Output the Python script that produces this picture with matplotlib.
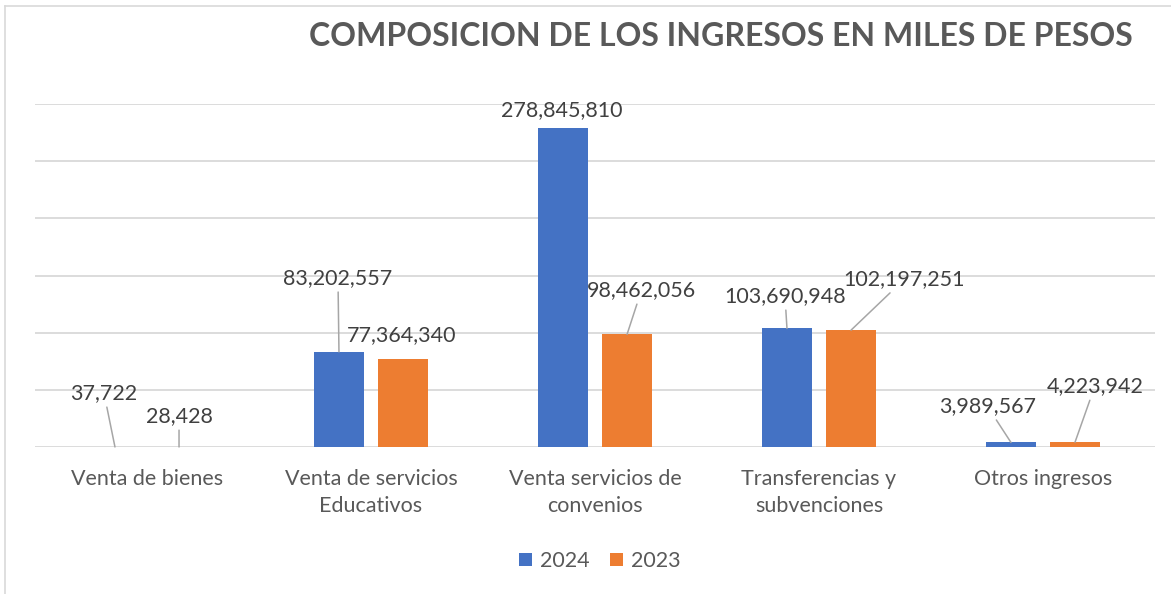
import matplotlib.pyplot as plt
from matplotlib.lines import Line2D
import numpy as np

plt.rcParams['font.family'] = ['Lato', 'DejaVu Sans']

categorias = ['Venta de bienes', 'Venta de servicios\nEducativos',
              'Venta servicios de\nconvenios', 'Transferencias y\nsubvenciones',
              'Otros ingresos']
v2024 = [37722, 83202557, 278845810, 103690948, 3989567]
v2023 = [28428, 77364340, 98462056, 102197251, 4223942]

# posicion de las etiquetas (pixeles respecto a la punta de la barra) y si llevan linea guia
off2024 = [(-11, 48), (-1, 68), (-1.5, 12), (-2, 26.5), (-23.7, 30.4)]
off2023 = [(0, 25), (-1, 17.5), (14.5, 38.4), (53.4, 45), (19.8, 50)]
guia2024 = [True, True, False, True, True]
guia2023 = [True, False, True, True, True]

W, H = 1171, 594
fig = plt.figure(figsize=(W / 100, H / 100), dpi=100)
ax = fig.add_axes([35 / W, (H - 447) / H, 1120 / W, 343 / H])

x = np.arange(len(categorias))
ancho = 0.223
desp = 0.143
azul = '#4472C4'
naranja = '#ED7D31'
b1 = ax.bar(x - desp, v2024, ancho, color=azul, label='2024', zorder=3)
b2 = ax.bar(x + desp, v2023, ancho, color=naranja, label='2023', zorder=3)

ax.set_xlim(-0.5, len(categorias) - 0.5)
ax.set_ylim(0, 300e6)
ax.set_yticks(np.arange(0, 300e6 + 1, 50e6))
ax.yaxis.grid(True, color='#D9D9D9', linewidth=1.3, zorder=0)
ax.set_yticklabels([])
ax.tick_params(axis='y', length=0)
for s in ax.spines.values():
    s.set_visible(False)

ax.set_xticks(x)
ax.set_xticklabels(categorias, fontsize=15.5, color='#595959', linespacing=1.45)
ax.tick_params(axis='x', length=0, pad=16)


def etiquetar(valores, xs, offs, guias):
    for v, xi, (dx, dy), g in zip(valores, xs, offs, guias):
        props = None
        if g:
            props = dict(arrowstyle='-', color='#A6A6A6', lw=1.1, shrinkA=1, shrinkB=0)
        ax.annotate(f'{v:,}', xy=(xi, v), xytext=(dx, dy), textcoords='offset pixels',
                    ha='center', va='baseline', fontsize=15.5, color='#404040',
                    arrowprops=props, annotation_clip=False, zorder=4)


etiquetar(v2024, x - desp, off2024, guia2024)
etiquetar(v2023, x + desp, off2023, guia2023)

fig.text(720.5 / W, 1 - 37 / H, 'COMPOSICION DE LOS INGRESOS EN MILES DE PESOS',
         ha='center', va='center', fontsize=23, fontweight='bold', color='#595959')

fig.legend(handles=[b1, b2], loc='center', bbox_to_anchor=(600 / W, 1 - 561 / H),
           ncol=2, frameon=False, fontsize=15.5, labelcolor='#595959',
           handlelength=0.6, handleheight=0.6, handletextpad=0.37, columnspacing=0.93)

# marco del grafico
fig.add_artist(Line2D([4.5 / W, 4.5 / W], [0, 1 - 6 / H], color='#D9D9D9', lw=1.2))
fig.add_artist(Line2D([4.5 / W, 1], [1 - 6 / H, 1 - 6 / H], color='#D9D9D9', lw=1.2))

fig.savefig('out.png', dpi=100)
